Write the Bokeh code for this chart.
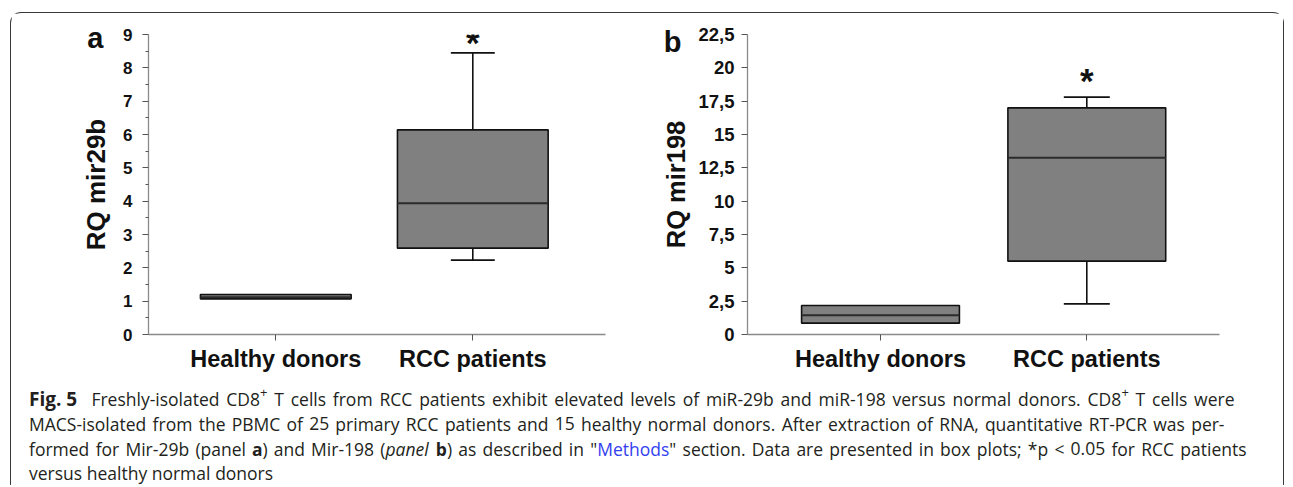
from bokeh.plotting import figure
from bokeh.models import Range1d, FixedTicker, Label, LinearAxis, Spacer
from bokeh.layouts import row, column
from bokeh.embed import file_html
from bokeh.resources import INLINE
from bokeh.core.properties import value

# ---------------- data ----------------
categories = ["Healthy donors", "RCC patients"]

# panel a : RQ mir29b
a_lower = [1.07, 2.23]
a_q1 = [1.07, 2.59]
a_median = [1.12, 3.94]
a_q3 = [1.20, 6.14]
a_upper = [1.20, 8.45]
a_ticks = [0, 1, 2, 3, 4, 5, 6, 7, 8, 9]
a_tick_labels = ["0", "1", "2", "3", "4", "5", "6", "7", "8", "9"]
a_minor_ticks = [0.5, 1.5, 2.5, 3.5, 4.5, 5.5, 6.5, 7.5, 8.5]

# panel b : RQ mir198
b_lower = [0.85, 2.30]
b_q1 = [0.85, 5.50]
b_median = [1.45, 13.25]
b_q3 = [2.17, 17.00]
b_upper = [2.17, 17.80]
b_ticks = [0, 2.5, 5, 7.5, 10, 12.5, 15, 17.5, 20, 22.5]
b_tick_labels = ["0", "2,5", "5", "7,5", "10", "12,5", "15", "17,5", "20", "22,5"]

significant = [False, True]

# caption: lines of words, each word a list of (text, style) pieces
N = "normal"
caption_lines = [
    [[("Fig. 5", "bold")], [("Freshly-isolated", N)], [("CD8", N), ("+", "sup")]]
    + [[(w, N)] for w in "T cells from RCC patients exhibit elevated levels of miR-29b and miR-198 versus normal donors.".split()]
    + [[("CD8", N), ("+", "sup")], [("T", N)], [("cells", N)], [("were", N)]],
    [[(w, N)] for w in "MACS-isolated from the PBMC of 25 primary RCC patients and 15 healthy normal donors. After extraction of RNA, quantitative RT-PCR was per-".split()],
    [[(w, N)] for w in "formed for Mir-29b (panel".split()]
    + [[("a", "bold"), (")", N)], [("and", N)], [("Mir-198", N)], [("(", N), ("panel", "italic")],
       [("b", "bold"), (")", N)], [("as", N)], [("described", N)], [("in", N)],
       [("\"", N), ("Methods", "link"), ("\"", N)]]
    + [[(w, N)] for w in "section. Data are presented in box plots; *p < 0.05 for RCC patients".split()],
    [[(w, N)] for w in "versus healthy normal donors".split()],
]
caption_justified = [True, True, True, False]
caption_right = [1234, 1224, 1246, None]
caption_lead_gap = [7, 0, 0, 0]   # extra space after the first word ("Fig. 5")
caption_left = 28.5
caption_baselines = [398.5, 423, 448, 472.5]

# ---------------- style ----------------
FONT = "Liberation Sans"
BOX_FILL = "#808080"
AXIS_GRAY = "#8a8a8a"
BOX_W = 0.765
CAP_W = 0.223
FRAME_H = 300


def make_panel(lower, q1, med, q3, upper, ticks, tick_labels, minor, ymax, ylabel,
               letter, letter_y, letter_standoff, star_y, x_start, x_end, frame_w,
               border_l, border_r, tick_font, label_standoff, title_standoff,
               title_size):
    p = figure(output_backend="svg", toolbar_location=None, tools="", title=None,
               x_range=Range1d(x_start, x_end), y_range=Range1d(0, ymax),
               frame_width=frame_w, frame_height=FRAME_H,
               min_border_left=border_l, min_border_right=border_r,
               min_border_top=21, min_border_bottom=46)
    p.outline_line_color = None
    p.grid.visible = False
    p.background_fill_color = "white"
    p.border_fill_color = "white"

    xs = [i + 1 for i in range(len(categories))]

    # whiskers (only where they extend beyond the box)
    wx0, wy0, wx1, wy1 = [], [], [], []
    for x, lo, a, b, hi in zip(xs, lower, q1, q3, upper):
        if hi > b:
            wx0 += [x, x - CAP_W / 2]; wy0 += [b, hi]
            wx1 += [x, x + CAP_W / 2]; wy1 += [hi, hi]
        if lo < a:
            wx0 += [x, x - CAP_W / 2]; wy0 += [a, lo]
            wx1 += [x, x + CAP_W / 2]; wy1 += [lo, lo]
    p.segment(x0=wx0, y0=wy0, x1=wx1, y1=wy1, line_color="#111111", line_width=1.6)

    p.vbar(x=xs, width=BOX_W, bottom=q1, top=q3, fill_color=BOX_FILL,
           line_color="#111111", line_width=1.6)
    p.segment(x0=[x - BOX_W / 2 for x in xs], y0=med, x1=[x + BOX_W / 2 for x in xs],
              y1=med, line_color="#2b2b2b", line_width=2)

    # x axis
    xa = p.xaxis[0]
    xa.ticker = FixedTicker(ticks=xs, minor_ticks=[])
    xa.major_label_overrides = {x: c for x, c in zip(xs, categories)}
    xa.axis_line_color = AXIS_GRAY
    xa.axis_line_width = 1.3
    xa.major_tick_line_color = "#555555"
    xa.major_tick_out = 6
    xa.major_tick_in = 0
    xa.minor_tick_out = 0
    xa.major_label_text_font = FONT
    xa.major_label_text_font_style = "bold"
    xa.major_label_text_font_size = "23.5px"
    xa.major_label_text_color = "#111111"
    xa.major_label_standoff = 5

    # y axis
    ya = p.yaxis[0]
    ya.ticker = FixedTicker(ticks=ticks, minor_ticks=minor)
    ya.major_label_overrides = {t: s for t, s in zip(ticks, tick_labels)}
    ya.axis_line_color = AXIS_GRAY
    ya.axis_line_width = 1.3
    ya.major_tick_line_color = "#555555"
    ya.minor_tick_line_color = "#555555"
    ya.major_tick_out = 6
    ya.major_tick_in = 0
    ya.minor_tick_out = 3
    ya.minor_tick_in = 0
    ya.major_label_text_font = FONT
    ya.major_label_text_font_style = "bold"
    ya.major_label_text_font_size = tick_font
    ya.major_label_text_color = "#111111"
    ya.major_label_standoff = label_standoff
    ya.axis_label = ylabel
    ya.axis_label_text_font = FONT
    ya.axis_label_text_font_style = "bold"
    ya.axis_label_text_font_size = title_size
    ya.axis_label_text_color = "#111111"
    ya.axis_label_standoff = title_standoff

    # panel letter, as the single label of an extra (invisible) axis
    la = LinearAxis(ticker=FixedTicker(ticks=[letter_y], minor_ticks=[]),
                    major_label_overrides={letter_y: letter},
                    axis_line_color=None, major_tick_line_color=None,
                    minor_tick_line_color=None, major_tick_out=0, major_tick_in=0,
                    minor_tick_out=0, minor_tick_in=0,
                    major_label_text_font=FONT, major_label_text_font_style="bold",
                    major_label_text_font_size="29px", major_label_text_color="#111111",
                    major_label_standoff=letter_standoff)
    p.add_layout(la, "left")

    # significance stars
    for x, s in zip(xs, significant):
        if s:
            p.add_layout(Label(x=x, y=star_y, text="*", text_font=FONT,
                               text_font_style="bold", text_font_size="35px",
                               text_color="#111111", text_align="center",
                               text_baseline="alphabetic"))
    return p


pa = make_panel(a_lower, a_q1, a_median, a_q3, a_upper, a_ticks, a_tick_labels,
                a_minor_ticks, 9, "RQ mir29b", "a", 8.91, -25, 8.76,
                0.3538, 2.6736, 457, 137, 35, "17px", 10, 9, "26px")
pb = make_panel(b_lower, b_q1, b_median, b_q3, b_upper, b_ticks, b_tick_labels,
                [], 22.5, "RQ mir198", "b", 21.92, -22, 19.07,
                0.3553, 2.6432, 472, 107, 64, "18.5px", 7, 5, "25.5px")

# ---------------- caption ----------------
# approximate Open Sans advance widths (em) used to lay out justified lines
OS_W = {" ": .260, "a": .556, "b": .613, "c": .476, "d": .613, "e": .561, "f": .339,
        "g": .548, "h": .614, "i": .253, "j": .253, "k": .525, "l": .253, "m": .930,
        "n": .614, "o": .604, "p": .613, "q": .613, "r": .408, "s": .477, "t": .353,
        "u": .614, "v": .501, "w": .778, "x": .524, "y": .502, "z": .477,
        "A": .633, "B": .648, "C": .631, "D": .729, "E": .556, "F": .516, "G": .728,
        "H": .738, "I": .279, "J": .267, "K": .614, "L": .519, "M": .903, "N": .764,
        "O": .778, "P": .590, "Q": .778, "R": .618, "S": .549, "T": .553, "U": .732,
        "V": .579, "W": .893, ".": .266, ",": .240, "-": .322, "(": .291, ")": .291,
        "\"": .401, ";": .266, "*": .551, "<": .572, "+": .572, ":": .266}
CAP_STYLES = {
    "normal": dict(font_style="normal", size=17.5, color="#231f20", dy=0, k=1.0),
    "bold": dict(font_style="bold", size=17.5, color="#231f20", dy=0, k=1.06),
    "italic": dict(font_style="italic", size=17.5, color="#231f20", dy=0, k=0.97),
    "link": dict(font_style="normal", size=17.5, color="#3340ee", dy=0, k=1.0),
    "sup": dict(font_style="normal", size=13, color="#231f20", dy=-6.5, k=1.0),
}


def piece_size(text, style):
    return 19.0 if text == "Fig. 5" else CAP_STYLES[style]["size"]


def piece_width(text, style):
    st = CAP_STYLES[style]
    return sum(OS_W.get(ch, .572) for ch in text) * piece_size(text, style) * st["k"]


cap = figure(output_backend="svg", toolbar_location=None, tools="", title=None,
             x_range=Range1d(11, 1283), y_range=Range1d(485, 380),
             frame_width=1272, frame_height=105, min_border=0,
             x_axis_type=None, y_axis_type=None)
cap.outline_line_color = None
cap.grid.visible = False

items = {k: dict(x=[], y=[], text=[], size=[]) for k in CAP_STYLES}
for words, just, right, lead, base in zip(caption_lines, caption_justified, caption_right,
                                          caption_lead_gap, caption_baselines):
    widths = [sum(piece_width(t, s) for t, s in w) for w in words]
    if just:
        gap = (right - caption_left - lead - sum(widths)) / (len(words) - 1)
    else:
        gap = OS_W[" "] * CAP_STYLES["normal"]["size"]
    x = caption_left
    for i, (w, ww) in enumerate(zip(words, widths)):
        xx = x
        for t, s in w:
            d = items[s]
            d["x"].append(xx); d["y"].append(base + CAP_STYLES[s]["dy"])
            d["text"].append(t); d["size"].append("%.1fpx" % piece_size(t, s))
            xx += piece_width(t, s)
        x += ww + gap + (lead if i == 0 else 0)

for k, d in items.items():
    if d["x"]:
        st = CAP_STYLES[k]
        cap.text(x=d["x"], y=d["y"], text=d["text"], text_font=value("Open Sans"),
                 text_font_style=st["font_style"], text_font_size=d["size"],
                 text_color=st["color"], text_align="left", text_baseline="alphabetic")

inner = column(row(pa, pb, spacing=0), cap, spacing=0,
               styles={"border": "1px solid #3a3a3a", "border-bottom": "none",
                       "border-radius": "11px 11px 0 0"})
root = row(Spacer(width=10, height=10),
           column(Spacer(width=10, height=12), inner, spacing=0), spacing=0)

open("out.html", "w").write(file_html(root, INLINE))
